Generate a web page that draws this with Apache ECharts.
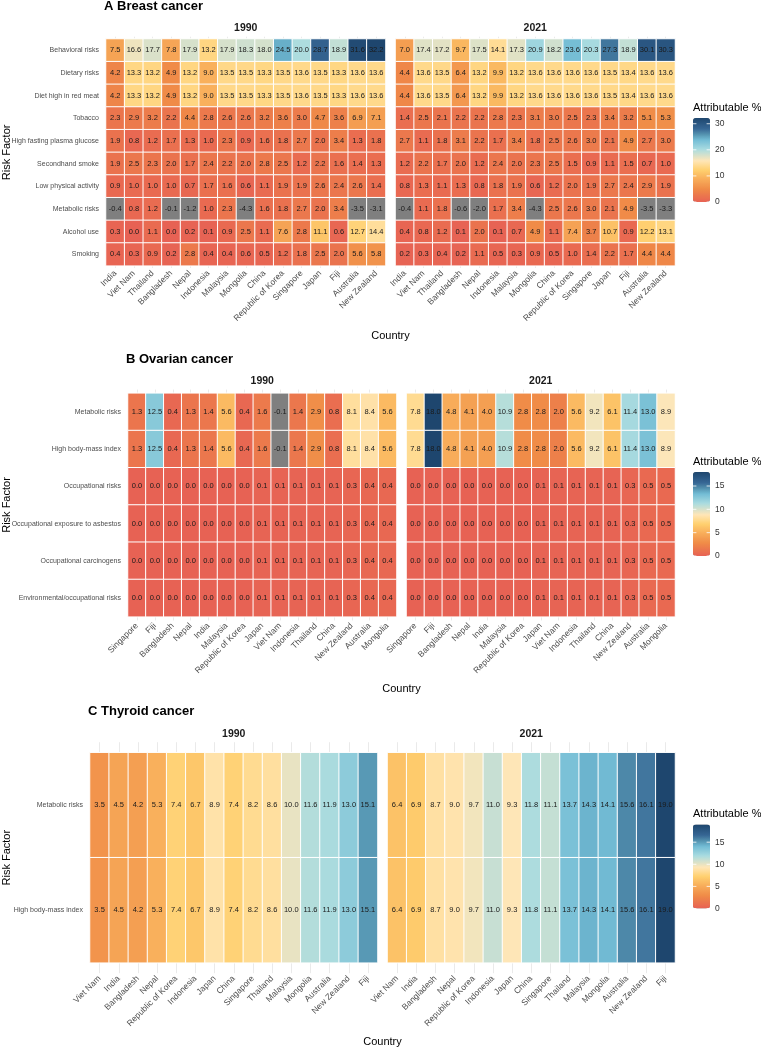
<!DOCTYPE html>
<html lang="en">
<head>
<meta charset="UTF-8">
<title>Attributable % by risk factor</title>
<script src="https://cdn.jsdelivr.net/npm/echarts@6/dist/echarts.min.js"></script>
<style>
  html, body { margin: 0; padding: 0; background: #fff; }
  #main { width: 761px; height: 1049px; }
</style>
</head>
<body>
<div id="main"></div>
<script>
// A Breast cancer
const breastRisks = ['Behavioral risks', 'Dietary risks', 'Diet high in red meat', 'Tobacco',
  'High fasting plasma glucose', 'Secondhand smoke', 'Low physical activity', 'Metabolic risks',
  'Alcohol use', 'Smoking'];
const breastCountries = ['India', 'Viet Nam', 'Thailand', 'Bangladesh', 'Nepal', 'Indonesia', 'Malaysia',
  'Mongolia', 'China', 'Republic of Korea', 'Singapore', 'Japan', 'Fiji', 'Australia', 'New Zealand'];
const breast1990 = [
  [7.5, 16.6, 17.7, 7.8, 17.9, 13.2, 17.9, 18.3, 18.0, 24.5, 20.0, 28.7, 18.9, 31.6, 32.2],
  [4.2, 13.3, 13.2, 4.9, 13.2, 9.0, 13.5, 13.5, 13.3, 13.5, 13.6, 13.5, 13.3, 13.6, 13.6],
  [4.2, 13.3, 13.2, 4.9, 13.2, 9.0, 13.5, 13.5, 13.3, 13.5, 13.6, 13.5, 13.3, 13.6, 13.6],
  [2.3, 2.9, 3.2, 2.2, 4.4, 2.8, 2.6, 2.6, 3.2, 3.6, 3.0, 4.7, 3.6, 6.9, 7.1],
  [1.9, 0.8, 1.2, 1.7, 1.3, 1.0, 2.3, 0.9, 1.6, 1.8, 2.7, 2.0, 3.4, 1.3, 1.8],
  [1.9, 2.5, 2.3, 2.0, 1.7, 2.4, 2.2, 2.0, 2.8, 2.5, 1.2, 2.2, 1.6, 1.4, 1.3],
  [0.9, 1.0, 1.0, 1.0, 0.7, 1.7, 1.6, 0.6, 1.1, 1.9, 1.9, 2.6, 2.4, 2.6, 1.4],
  [-0.4, 0.8, 1.2, -0.1, -1.2, 1.0, 2.3, -4.3, 1.6, 1.8, 2.7, 2.0, 3.4, -3.5, -3.1],
  [0.3, 0.0, 1.1, 0.0, 0.2, 0.1, 0.9, 2.5, 1.1, 7.6, 2.8, 11.1, 0.6, 12.7, 14.4],
  [0.4, 0.3, 0.9, 0.2, 2.8, 0.4, 0.4, 0.6, 0.5, 1.2, 1.8, 2.5, 2.0, 5.6, 5.8]
];
const breast2021 = [
  [7.0, 17.4, 17.2, 9.7, 17.5, 14.1, 17.3, 20.9, 18.2, 23.6, 20.3, 27.3, 18.9, 30.1, 30.3],
  [4.4, 13.6, 13.5, 6.4, 13.2, 9.9, 13.2, 13.6, 13.6, 13.6, 13.6, 13.5, 13.4, 13.6, 13.6],
  [4.4, 13.6, 13.5, 6.4, 13.2, 9.9, 13.2, 13.6, 13.6, 13.6, 13.6, 13.5, 13.4, 13.6, 13.6],
  [1.4, 2.5, 2.1, 2.2, 2.2, 2.8, 2.3, 3.1, 3.0, 2.5, 2.3, 3.4, 3.2, 5.1, 5.3],
  [2.7, 1.1, 1.8, 3.1, 2.2, 1.7, 3.4, 1.8, 2.5, 2.6, 3.0, 2.1, 4.9, 2.7, 3.0],
  [1.2, 2.2, 1.7, 2.0, 1.2, 2.4, 2.0, 2.3, 2.5, 1.5, 0.9, 1.1, 1.5, 0.7, 1.0],
  [0.8, 1.3, 1.1, 1.3, 0.8, 1.8, 1.9, 0.6, 1.2, 2.0, 1.9, 2.7, 2.4, 2.9, 1.9],
  [-0.4, 1.1, 1.8, -0.6, -2.0, 1.7, 3.4, -4.3, 2.5, 2.6, 3.0, 2.1, 4.9, -3.5, -3.3],
  [0.4, 0.8, 1.2, 0.1, 2.0, 0.1, 0.7, 4.9, 1.1, 7.4, 3.7, 10.7, 0.9, 12.2, 13.1],
  [0.2, 0.3, 0.4, 0.2, 1.1, 0.5, 0.3, 0.9, 0.5, 1.0, 1.4, 2.2, 1.7, 4.4, 4.4]
];
const breastBreaks = [0, 10, 20, 30];

// B Ovarian cancer
const ovarianRisks = ['Metabolic risks', 'High body-mass index', 'Occupational risks',
  'Occupational exposure to asbestos', 'Occupational carcinogens', 'Environmental/occupational risks'];
const ovarianCountries = ['Singapore', 'Fiji', 'Bangladesh', 'Nepal', 'India', 'Malaysia', 'Republic of Korea',
  'Japan', 'Viet Nam', 'Indonesia', 'Thailand', 'China', 'New Zealand', 'Australia', 'Mongolia'];
const ovarian1990 = [
  [1.3, 12.5, 0.4, 1.3, 1.4, 5.6, 0.4, 1.6, -0.1, 1.4, 2.9, 0.8, 8.1, 8.4, 5.6],
  [1.3, 12.5, 0.4, 1.3, 1.4, 5.6, 0.4, 1.6, -0.1, 1.4, 2.9, 0.8, 8.1, 8.4, 5.6],
  [0.0, 0.0, 0.0, 0.0, 0.0, 0.0, 0.0, 0.1, 0.1, 0.1, 0.1, 0.1, 0.3, 0.4, 0.4],
  [0.0, 0.0, 0.0, 0.0, 0.0, 0.0, 0.0, 0.1, 0.1, 0.1, 0.1, 0.1, 0.3, 0.4, 0.4],
  [0.0, 0.0, 0.0, 0.0, 0.0, 0.0, 0.0, 0.1, 0.1, 0.1, 0.1, 0.1, 0.3, 0.4, 0.4],
  [0.0, 0.0, 0.0, 0.0, 0.0, 0.0, 0.0, 0.1, 0.1, 0.1, 0.1, 0.1, 0.3, 0.4, 0.4]
];
const ovarian2021 = [
  [7.8, 18.0, 4.8, 4.1, 4.0, 10.9, 2.8, 2.8, 2.0, 5.6, 9.2, 6.1, 11.4, 13.0, 8.9],
  [7.8, 18.0, 4.8, 4.1, 4.0, 10.9, 2.8, 2.8, 2.0, 5.6, 9.2, 6.1, 11.4, 13.0, 8.9],
  [0.0, 0.0, 0.0, 0.0, 0.0, 0.0, 0.0, 0.1, 0.1, 0.1, 0.1, 0.1, 0.3, 0.5, 0.5],
  [0.0, 0.0, 0.0, 0.0, 0.0, 0.0, 0.0, 0.1, 0.1, 0.1, 0.1, 0.1, 0.3, 0.5, 0.5],
  [0.0, 0.0, 0.0, 0.0, 0.0, 0.0, 0.0, 0.1, 0.1, 0.1, 0.1, 0.1, 0.3, 0.5, 0.5],
  [0.0, 0.0, 0.0, 0.0, 0.0, 0.0, 0.0, 0.1, 0.1, 0.1, 0.1, 0.1, 0.3, 0.5, 0.5]
];
const ovarianBreaks = [0, 5, 10, 15];

// C Thyroid cancer
const thyroidRisks = ['Metabolic risks', 'High body-mass index'];
const thyroidCountries1990 = ['Viet Nam', 'India', 'Bangladesh', 'Nepal', 'Republic of Korea', 'Indonesia', 'Japan',
  'China', 'Singapore', 'Thailand', 'Malaysia', 'Mongolia', 'Australia', 'New Zealand', 'Fiji'];
const thyroidCountries2021 = ['Viet Nam', 'India', 'Bangladesh', 'Nepal', 'Republic of Korea', 'Indonesia', 'Japan',
  'China', 'Singapore', 'Thailand', 'Malaysia', 'Mongolia', 'Australia', 'New Zealand', 'Fiji'];
const thyroid1990 = [
  [3.5, 4.5, 4.2, 5.3, 7.4, 6.7, 8.9, 7.4, 8.2, 8.6, 10.0, 11.6, 11.9, 13.0, 15.1],
  [3.5, 4.5, 4.2, 5.3, 7.4, 6.7, 8.9, 7.4, 8.2, 8.6, 10.0, 11.6, 11.9, 13.0, 15.1]
];
const thyroid2021 = [
  [6.4, 6.9, 8.7, 9.0, 9.7, 11.0, 9.3, 11.8, 11.1, 13.7, 14.3, 14.1, 15.6, 16.1, 19.0],
  [6.4, 6.9, 8.7, 9.0, 9.7, 11.0, 9.3, 11.8, 11.1, 13.7, 14.3, 14.1, 15.6, 16.1, 19.0]
];
const thyroidBreaks = [0, 5, 10, 15];

// colour ramp (red -> yellow -> blue), stop positions as a share of the scale
const palette = ['#e76254', '#ef8a47', '#f7aa58', '#ffd06f', '#ffe6b7', '#aadce0', '#72bcd5', '#528fad', '#376795', '#1e466e'];
const stops = [0, 0.15, 0.26, 0.38, 0.49, 0.625, 0.74, 0.81, 0.87, 1];

function hexRgb(h) {
  return [parseInt(h.slice(1, 3), 16), parseInt(h.slice(3, 5), 16), parseInt(h.slice(5, 7), 16)];
}
function ramp(n) {
  const out = [];
  for (let i = 0; i < n; i++) {
    const t = i / (n - 1);
    let k = 0;
    while (k < stops.length - 2 && t > stops[k + 1]) k++;
    const f = (t - stops[k]) / (stops[k + 1] - stops[k]);
    const a = hexRgb(palette[k]), b = hexRgb(palette[k + 1]);
    const c = a.map((v, j) => Math.round(v + (b[j] - v) * f));
    out.push('rgb(' + c.join(',') + ')');
  }
  return out;
}

const FONT = '"Liberation Sans", Arial, sans-serif';
const RIGHT = 675;   // right edge of every panel
const GAP = 10;      // gap between the 1990 and 2021 facets

const panels = [
  { title: 'A Breast cancer', rows: breastRisks, cols: [breastCountries, breastCountries],
    vals: [breast1990, breast2021], breaks: breastBreaks,
    left: 106, top: 39, height: 226.7, countryY: 336, legendTop: 118 },
  { title: 'B Ovarian cancer', rows: ovarianRisks, cols: [ovarianCountries, ovarianCountries],
    vals: [ovarian1990, ovarian2021], breaks: ovarianBreaks,
    left: 128, top: 393.3, height: 223.4, countryY: 689, legendTop: 472 },
  { title: 'C Thyroid cancer', rows: thyroidRisks, cols: [thyroidCountries1990, thyroidCountries2021],
    vals: [thyroid1990, thyroid2021], breaks: thyroidBreaks,
    left: 90, top: 752.7, height: 210, countryY: 1042, legendTop: 824.5 }
];
const years = ['1990', '2021'];

const grid = [], xAxis = [], yAxis = [], series = [], visualMap = [], graphic = [];
const colours = ramp(64);

function txt(x, y, text, font, fill, align, vAlign, rotation) {
  return {
    type: 'text', x: x, y: y, rotation: rotation || 0, silent: true,
    style: { text: text, font: font, fill: fill || '#000',
      align: align || 'left', verticalAlign: vAlign || 'middle',
      textAlign: align || 'left', textVerticalAlign: vAlign || 'middle' }
  };
}

panels.forEach(function (p, pi) {
  const facetW = (RIGHT - p.left - GAP) / 2;
  const tick = p.height / p.rows.length * 0.1;
  let max = 0;
  p.vals.forEach(v => v.forEach(r => r.forEach(x => { if (x > max) max = x; })));

  p.vals.forEach(function (vals, fi) {
    const gi = grid.length;
    const left = p.left + fi * (facetW + GAP);
    grid.push({ left: left, top: p.top, width: facetW, height: p.height });
    const tickStyle = { show: true, interval: 0, alignWithLabel: true, length: tick, lineStyle: { color: '#e4e4e4', width: 0.8 } };
    xAxis.push({
      type: 'category', gridIndex: gi, data: p.cols[fi], position: 'bottom',
      axisLine: { show: false }, axisTick: tickStyle, splitLine: { show: false },
      axisLabel: { rotate: 45, interval: 0, fontSize: 8.5, color: '#4d4d4d', fontFamily: FONT, margin: tick + 4 }
    });
    xAxis.push({
      type: 'category', gridIndex: gi, data: p.cols[fi], position: 'top',
      axisLine: { show: false }, axisTick: tickStyle, splitLine: { show: false },
      axisLabel: { show: false, interval: 0 }
    });
    yAxis.push({
      type: 'category', gridIndex: gi, data: p.rows, inverse: true,
      axisLine: { show: false }, axisTick: { show: false }, splitLine: { show: false },
      axisLabel: { show: fi === 0, interval: 0, fontSize: 7, color: '#4d4d4d', fontFamily: FONT, margin: 7 }
    });
    const data = [];
    vals.forEach((row, r) => row.forEach((v, c) => data.push([c, r, v])));
    series.push({
      type: 'heatmap', xAxisIndex: 2 * gi, yAxisIndex: gi, data: data,
      itemStyle: { borderColor: '#ffffff', borderWidth: 1 },
      label: { show: true, fontSize: 7.5, color: '#1a1a1a', fontFamily: FONT,
        formatter: prm => prm.value[2].toFixed(1) },
      emphasis: { disabled: true }
    });
    // facet strip
    graphic.push(txt(left + facetW / 2, p.top - tick - 8.5, years[fi], 'bold 10.5px ' + FONT, '#1a1a1a', 'center'));
  });

  // legend: negatives fall outside the range and turn grey
  const barH = 84;
  visualMap.push({
    type: 'continuous', seriesIndex: [2 * pi, 2 * pi + 1], dimension: 2,
    min: -0.02, max: max, range: [0, max], calculable: false, hoverLink: false,
    inRange: { color: colours }, outOfRange: { color: '#7f7f7f' },
    left: 693, top: p.legendTop, itemWidth: 17, itemHeight: barH, padding: 0,
    orient: 'vertical', text: null, showLabel: false
  });
  graphic.push(txt(693, p.legendTop - 10.5, 'Attributable %', '11px ' + FONT, '#000', 'left'));
  p.breaks.forEach(function (b) {
    const y = p.legendTop + barH - b / max * barH;
    graphic.push(txt(715, y, String(b), '8.5px ' + FONT, '#333', 'left'));
    graphic.push({ type: 'line', silent: true, z: 100, shape: { x1: 693, y1: y, x2: 696.4, y2: y }, style: { stroke: '#fff', lineWidth: 0.8 } });
    graphic.push({ type: 'line', silent: true, z: 100, shape: { x1: 706.6, y1: y, x2: 710, y2: y }, style: { stroke: '#fff', lineWidth: 0.8 } });
  });

  // titles
  graphic.push(txt(p.left - 2, p.top - tick - 30.5, p.title, 'bold 13px ' + FONT, '#000', 'left'));
  graphic.push(txt((p.left + RIGHT) / 2, p.countryY, 'Country', '11px ' + FONT, '#000', 'center'));
  graphic.push(txt(7, p.top + p.height / 2, 'Risk Factor', '11px ' + FONT, '#000', 'center', 'middle', Math.PI / 2));
});

const chart = echarts.init(document.getElementById('main'));
chart.setOption({
  animation: false,
  textStyle: { fontFamily: FONT },
  grid: grid,
  xAxis: xAxis,
  yAxis: yAxis,
  visualMap: visualMap,
  series: series,
  graphic: graphic
});
</script>
</body>
</html>
